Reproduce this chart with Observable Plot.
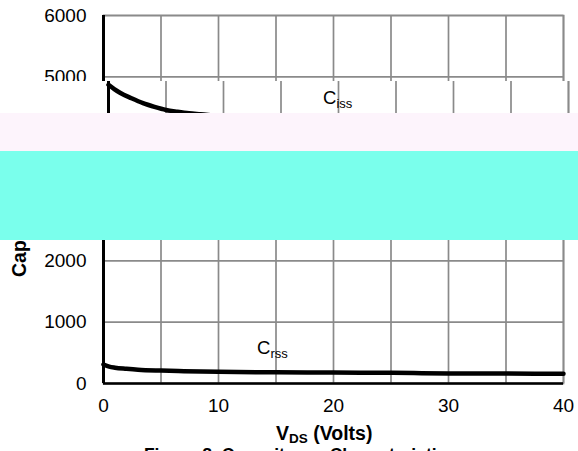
<!DOCTYPE html>
<html><head><meta charset="utf-8">
<script src="https://cdn.jsdelivr.net/npm/d3@7"></script>
<script src="https://cdn.jsdelivr.net/npm/@observablehq/plot@0.6"></script>
<style>
body{margin:0;background:#fff;font-family:"Liberation Sans",Arial,sans-serif;}
#wrap{position:relative;width:578px;height:451px;overflow:hidden;background:#fff;}
#wrap > svg{display:block;}
.band{position:absolute;left:0;width:578px;overflow:hidden;}
#caption{font-family:"Liberation Sans",Arial,sans-serif;font-weight:bold;font-size:17.5px;line-height:20px;text-align:center;width:578px;box-sizing:border-box;padding-left:22px;margin:0;color:#000;white-space:nowrap;}
</style></head>
<body><div id="wrap"></div>
<script>
// Data (V_DS in volts, capacitance in pF)
const cissV  = [0, 0.5, 1, 2, 3, 4, 5, 6, 7, 8, 10, 15, 20, 25, 30, 35, 40];
const cissPF = [4870, 4800, 4740, 4650, 4570, 4510, 4460, 4430, 4405, 4390, 4360, 4320, 4290, 4270, 4250, 4240, 4230];
const crssV  = [0, 0.5, 1, 2, 3, 5, 7, 10, 15, 20, 25, 27, 30, 35, 40];
const crssPF = [310, 275, 258, 240, 225, 210, 200, 190, 182, 178, 175, 170, 164, 162, 160];
const xTicks = [0, 10, 20, 30, 40];
const xGrid  = [0, 5, 10, 15, 20, 25, 30, 35, 40];
const yTicks = [0, 1000, 2000, 3000, 4000, 5000, 6000];
const yLabel = "Capacitance (pF)";
const xLabelMain = "V", xLabelSub = "DS", xLabelRest = " (Volts)";
const seriesLabels = [{name: "C", sub: "iss"}, {name: "C", sub: "rss"}];
const captionText = "Figure 8. Capacitance Characteristics";

const ciss = cissV.map((v, i) => ({v, c: cissPF[i]}));
const crss = crssV.map((v, i) => ({v, c: crssPF[i]}));

const FONT = '"Liberation Sans", Arial, sans-serif';
const grid = {stroke: "#8a8a8a", strokeOpacity: 1, strokeWidth: 1.7};

const chart = Plot.plot({
  width: 578, height: 445,
  marginTop: 15, marginBottom: 62, marginLeft: 103, marginRight: 15,
  x: {domain: [0, 40]},
  y: {domain: [0, 6000]},
  style: {fontFamily: FONT, fontSize: "19px", color: "#000", background: "#fff"},
  marks: [
    Plot.gridX(xGrid, grid),
    Plot.gridY(yTicks, grid),
    Plot.frame({stroke: "#8a8a8a", strokeWidth: 1.7}),
    Plot.line(ciss, {x: "v", y: "c", stroke: "#000", strokeWidth: 4.5, curve: "monotone-x"}),
    Plot.line(crss, {x: "v", y: "c", stroke: "#000", strokeWidth: 4.5, curve: "monotone-x"}),
    Plot.ruleX([0], {stroke: "#000", strokeWidth: 3}),
    Plot.ruleY([0], {stroke: "#000", strokeWidth: 2.5}),
    Plot.axisX(xTicks, {tickSize: 0, tickPadding: 15, label: null, fontSize: 19, tickFormat: d3.format("d")}),
    Plot.axisY(yTicks, {tickSize: 0, tickPadding: 17, label: null, fontSize: 19, tickFormat: d3.format("d")})
  ]
});

const wrap = document.getElementById("wrap");
wrap.appendChild(chart);

const svg = d3.select(chart);
// y-axis title (rotated)
svg.append("text")
  .attr("transform", "translate(26,277) rotate(-90)")
  .attr("text-anchor", "start")
  .attr("font-family", FONT).attr("font-weight", "bold").attr("font-size", 19.5)
  .attr("fill", "#000").text(yLabel);
// x-axis title with subscript
const xt = svg.append("text").attr("x", 276).attr("y", 440).attr("text-anchor", "start")
  .attr("font-family", FONT).attr("font-weight", "bold").attr("font-size", 19.5).attr("fill", "#000");
xt.append("tspan").text(xLabelMain);
xt.append("tspan").attr("font-size", 13.5).attr("dy", 3).text(xLabelSub);
xt.append("tspan").attr("dy", -3).text(xLabelRest);
// C_rss label
const crt = svg.append("text").attr("x", 257).attr("y", 353.5).attr("text-anchor", "start")
  .attr("font-family", FONT).attr("font-size", 18.5).attr("fill", "#000");
crt.append("tspan").text(seriesLabels[1].name);
crt.append("tspan").attr("font-size", 13).attr("dy", 4).text(seriesLabels[1].sub);

// Shifted strip (as in the reference): a copy of the chart without text, offset 5px right
const strip = document.createElement("div");
strip.className = "band";
strip.style.top = "81px"; strip.style.height = "32px";
const clone = chart.cloneNode(true);
clone.querySelectorAll("text").forEach(t => t.remove());
clone.style.position = "absolute"; clone.style.top = "-81px"; clone.style.left = "5px";
strip.appendChild(clone);
wrap.appendChild(strip);

// colour bands of the reference
const pink = document.createElement("div");
pink.className = "band"; pink.style.top = "113px"; pink.style.height = "38px"; pink.style.background = "rgb(253,244,252)";
wrap.appendChild(pink);
const cyan = document.createElement("div");
cyan.className = "band"; cyan.style.top = "151px"; cyan.style.height = "89px"; cyan.style.background = "rgb(122,255,236)";
wrap.appendChild(cyan);

// C_iss label on top
const ov = d3.select(wrap).append("svg").attr("width", 578).attr("height", 130)
  .style("position", "absolute").style("left", 0).style("top", 0);
const cit = ov.append("text").attr("x", 323).attr("y", 104).attr("text-anchor", "start")
  .attr("font-family", FONT).attr("font-size", 18.5).attr("fill", "#000");
cit.append("tspan").text(seriesLabels[0].name);
cit.append("tspan").attr("font-size", 13).attr("dy", 4).text(seriesLabels[0].sub);

// caption below the SVG
const cap = document.createElement("div");
cap.id = "caption"; cap.textContent = captionText;
wrap.appendChild(cap);
</script>
</body></html>
